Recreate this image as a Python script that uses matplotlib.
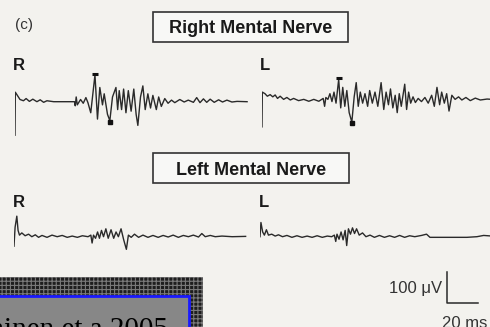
import matplotlib
matplotlib.use("Agg")
import matplotlib.pyplot as plt
from matplotlib.patches import Rectangle

# EMG traces: time (ms) and amplitude (µV)
# Right Mental Nerve, R side
rmn_r_t = [0, 0.2, 3.2, 5.4, 7.1, 9.2, 11.4, 14, 16.1, 18.3,
           20.4, 24.7, 33.3, 38, 38.5, 39.1, 39.8, 41.9, 43.6, 45.3,
           46.6, 48.4, 51.1, 52.7, 54.2, 55.9, 57, 59.1, 60.6, 62.3,
           64.5, 65.6, 66.6, 68.1, 69.4, 70.9, 72.4, 74.2, 75.9, 77.4,
           78.5, 80.2, 81.7, 83.2, 84.9, 86.6, 88.1, 90.3, 91.8, 93.5,
           95.7, 97.8, 100, 102.1, 105.3, 108.1, 110.7, 114, 116.1, 118.2,
           120.4, 122.5, 124.7, 127.3, 130.1, 132.6, 135.4, 138.6, 141.9, 148.3]
rmn_r_v = [-106, 30, 7, 3, 10, 1, 8, 0, 6, -2,
           3, 0, 0, 0, -13, 15, -10, 7, -5, 13,
           -3, -35, 85, -55, 45, -10, 25, -40, -60, 15,
           45, -25, 35, -25, 40, -35, 35, -30, 40, -40,
           -75, 15, 50, -25, 25, -20, 20, -25, 15, -15,
           10, -5, 5, -3, 7, -1, 5, -2, 13, -3,
           9, -2, 8, -2, 6, -1, 5, -1, 1, 0]
rmn_r_mark_t = [51.1, 60.6]
rmn_r_mark_v = [85, -60]

# Right Mental Nerve, L side
rmn_l_t = [0, 0.2, 1.9, 3.4, 5.2, 6.9, 8.4, 9.9, 11.6, 13.8,
           15.9, 18.1, 20.2, 23.4, 26.7, 29.9, 33.1, 36.3, 39.1, 40,
           40.8, 42.1, 43.4, 44.7, 46, 47.3, 49, 50.3, 51.6, 52.9,
           54.2, 55.7, 57.4, 58.9, 60.2, 61.5, 62.8, 64.3, 65.8, 67.5,
           68.8, 70.5, 72.2, 74, 76.1, 77.8, 79.3, 80.8, 82.1, 83.6,
           85.1, 86.4, 87.7, 89, 91.2, 92.4, 93.7, 95, 96.5, 98,
           99.8, 101.9, 104.1, 106.2, 108.4, 110.1, 111.8, 113.5, 114.8, 116.5,
           118, 119.5, 121.3, 123.4, 125.6, 127.7, 130.3, 133.1, 136.3, 139.5,
           143.8, 147]
rmn_l_v = [-85, 25, 20, 12, 17, 10, 16, 5, 12, 2,
           8, 0, 5, -2, 2, -4, 2, -4, 5, -20,
           8, 2, 20, -5, 25, -10, 65, -25, 40, -20,
           30, -40, -70, 10, 55, -20, 25, -10, 20, -20,
           30, -10, 25, -20, 55, -30, 25, -15, 35, -25,
           15, -40, 20, -20, 50, -30, 25, -10, 10, -8,
           5, -5, 8, -10, 15, -20, 40, -15, 25, -10,
           20, -35, 15, 2, 10, 0, 8, -2, 6, 0,
           3, 2]
rmn_l_mark_t = [49, 57.4]
rmn_l_mark_v = [65, -70]

# Left Mental Nerve, R side
lmn_r_t = [0, 0.7, 1.8, 2.6, 3.5, 5, 7.1, 9.3, 11.4, 13.6,
           15.7, 17.9, 21.1, 24.3, 27.6, 30.8, 34, 37.2, 40.5, 43.7,
           47.3, 49.1, 49.9, 50.8, 52.1, 53.4, 54.6, 55.9, 57.2, 58.7,
           60.2, 62, 63.7, 65.2, 66.7, 68.4, 70.1, 71.8, 73.1, 74.9,
           77, 79.6, 82.4, 85.6, 88.8, 92.1, 95.3, 98.5, 101.7, 105,
           108.2, 111.4, 114.6, 117.9, 120, 122.2, 125.4, 128.6, 132.9, 139.4,
           148]
lmn_r_v = [-30, 30, 65, 20, 5, 12, 3, 8, 0, 6,
           -2, 4, -2, 5, 0, 4, -2, 2, -2, 3,
           0, 5, -20, 5, -5, 15, -5, 20, 0, 25,
           -5, 22, -5, 15, 0, 25, -10, -40, 5, -2,
           8, -2, 5, -2, 4, -2, 4, -1, 5, -2,
           4, 0, 5, -1, 10, 0, 4, 0, 2, 0,
           1]

# Left Mental Nerve, L side
lmn_l_t = [0, 0.6, 1.7, 2.8, 4.1, 5.4, 7.5, 9.7, 11.8, 14.4,
           17.2, 20.4, 23.6, 26.9, 30.1, 33.3, 36.5, 39.8, 43, 45.8,
           47.5, 48.4, 49.2, 50.5, 51.8, 53.1, 54.4, 55.4, 56.5, 57.8,
           59.1, 60.4, 61.7, 63.4, 65.5, 67.7, 70.3, 73.1, 76.3, 79.5,
           82.8, 86, 89.2, 92.4, 95.6, 98.9, 103.2, 106.4, 108.6, 115,
           123.6, 132.2, 138.6, 142.9, 148.3]
lmn_l_v = [0, 45, 15, 5, 22, 5, 8, 2, 6, 0,
           4, -2, 3, -2, 2, -2, 3, -2, 2, 0,
           5, -15, 8, -8, 15, -10, 20, -28, 25, 8,
           28, 10, 25, 5, 12, 0, 5, -2, 4, -2,
           3, -2, 4, -2, 3, 0, 4, 8, -2, -2,
           -2, -2, 0, 4, 2]

scale_ms = 20
scale_uv = 100

BG = '#f3f2ee'
INK = '#2a2a2a'
W, H = 490, 327
PX_PER_MS = 31.3 / 20
PX_PER_UV = 31.6 / 100

plt.rcParams['font.family'] = ['Liberation Sans', 'DejaVu Sans']
plt.rcParams['hatch.linewidth'] = 0.8

fig = plt.figure(figsize=(W / 100, H / 100), dpi=100, facecolor=BG)
ax = fig.add_axes([0, 0, 1, 1])
ax.set_xlim(0, W)
ax.set_ylim(H, 0)
ax.axis('off')


def trace_ax(x0, base):
    # axes in ms / µV, placed so the trace starts at x0 px with baseline at base px
    w = 150 * PX_PER_MS
    h = 300 * PX_PER_UV
    a = fig.add_axes([x0 / W, (H - base - h / 2) / H, w / W, h / H])
    a.set_xlim(0, 150)
    a.set_ylim(-150, 150)
    a.axis('off')
    return a


a1 = trace_ax(15, 101.7)
a1.plot(rmn_r_t, rmn_r_v, color=INK, lw=1.0)
a1.plot(rmn_r_mark_t[0], rmn_r_mark_v[0] + 4, marker='_', ms=5, mew=2.2, color='#111')
a1.plot(rmn_r_mark_t[1], rmn_r_mark_v[1] - 4, marker='s', ms=3.2, color='#111')

a2 = trace_ax(262, 100)
a2.plot(rmn_l_t, rmn_l_v, color=INK, lw=1.0)
a2.plot(rmn_l_mark_t[0], rmn_l_mark_v[0] + 4, marker='_', ms=5, mew=2.2, color='#111')
a2.plot(rmn_l_mark_t[1], rmn_l_mark_v[1] - 4, marker='s', ms=3.2, color='#111')

a3 = trace_ax(14, 236.7)
a3.plot(lmn_r_t, lmn_r_v, color=INK, lw=1.0)

a4 = trace_ax(260, 236.7)
a4.plot(lmn_l_t, lmn_l_v, color=INK, lw=1.0)

# scale bar (same ms / µV units as the traces)
sx, sy = 119.3, -111
a4.plot([sx, sx, sx + scale_ms], [sy, sy - scale_uv, sy - scale_uv],
        color=INK, lw=1.1, clip_on=False)

# titles and labels
ax.text(15, 29.5, '(c)', fontsize=11, color='#333')
ax.add_patch(Rectangle((153, 12), 195, 30, facecolor='#f8f8f6', edgecolor='#333', lw=1.2))
ax.text(251, 33.3, 'Right Mental Nerve', fontsize=13, fontweight='bold',
        ha='center', va='baseline', color='#1a1a1a')
ax.add_patch(Rectangle((153, 153), 196, 30, facecolor='#f8f8f6', edgecolor='#333', lw=1.2))
ax.text(251, 175, 'Left Mental Nerve', fontsize=13, fontweight='bold',
        ha='center', va='baseline', color='#1a1a1a')

for x, y, s in [(13, 70, 'R'), (260, 70, 'L'), (13, 206.7, 'R'), (259, 206.7, 'L')]:
    ax.text(x, y, s, fontsize=12, fontweight='bold', va='baseline', color='#1a1a1a')

ax.text(441.7, 293, '100 \u03bcV', fontsize=12, ha='right', va='baseline', color='#333')
ax.text(441.7, 328, '20 ms', fontsize=12, ha='left', va='baseline', color='#333')

# citation box in the lower left corner
ax.add_patch(Rectangle((-5, 276.7), 208.3, 60, facecolor='#1e1e1e',
                       edgecolor='#7a7a7a', hatch='++++', lw=0))
ax.add_patch(Rectangle((-5, 296), 194, 40, facecolor='#878787',
                       edgecolor='#1a1aff', lw=2))
ax.text(168, 337, 'ainen et a 2005', fontsize=21, family='Liberation Serif',
        ha='right', va='baseline', color='black')

fig.savefig('out.png', dpi=100, facecolor=BG)
